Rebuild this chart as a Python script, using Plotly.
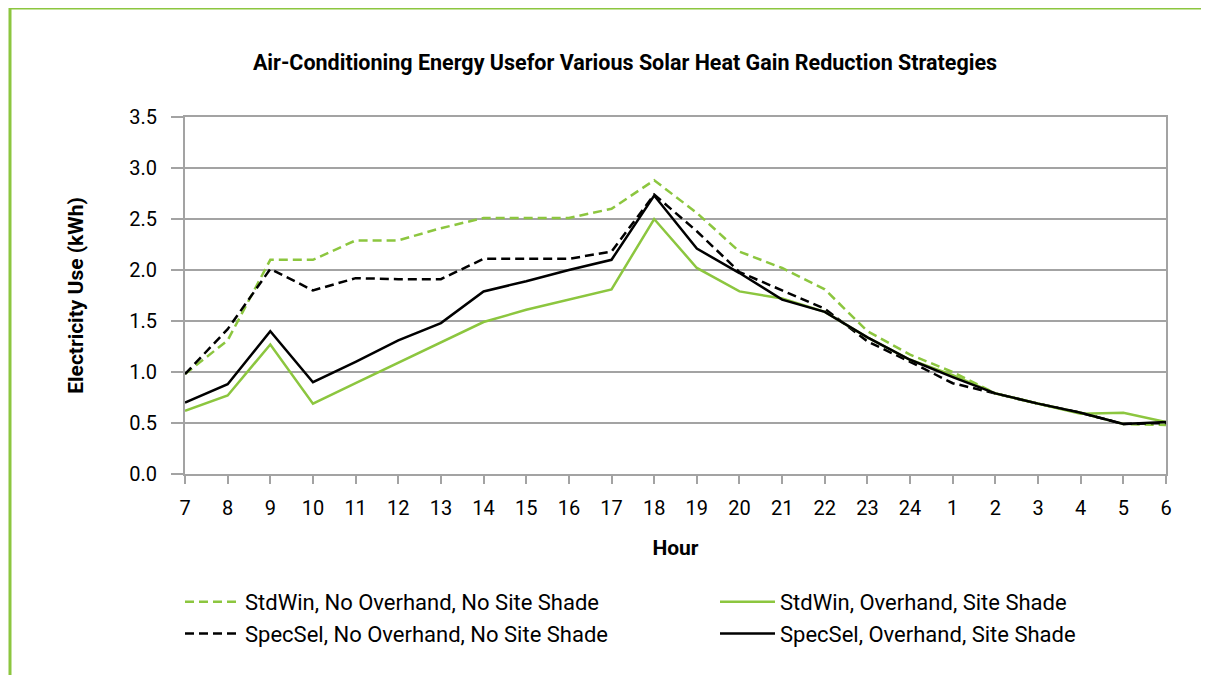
import plotly.graph_objects as go

hours = ["7", "8", "9", "10", "11", "12", "13", "14", "15", "16", "17", "18",
         "19", "20", "21", "22", "23", "24", "1", "2", "3", "4", "5", "6"]

stdwin_no_shade = [0.98, 1.31, 2.10, 2.10, 2.29, 2.29, 2.41, 2.51, 2.51, 2.51, 2.60, 2.88,
                   2.56, 2.18, 2.02, 1.81, 1.40, 1.17, 1.00, 0.79, 0.69, 0.60, 0.49, 0.48]
stdwin_shade = [0.62, 0.77, 1.27, 0.69, 0.89, 1.09, 1.29, 1.49, 1.61, 1.71, 1.81, 2.50,
                2.02, 1.79, 1.72, 1.59, 1.34, 1.12, 0.97, 0.79, 0.69, 0.59, 0.60, 0.51]
specsel_no_shade = [0.98, 1.42, 2.01, 1.80, 1.92, 1.91, 1.91, 2.11, 2.11, 2.11, 2.18, 2.74,
                    2.38, 1.98, 1.80, 1.62, 1.30, 1.10, 0.89, 0.79, 0.69, 0.60, 0.49, 0.50]
specsel_shade = [0.70, 0.88, 1.40, 0.90, 1.10, 1.31, 1.48, 1.79, 1.89, 2.00, 2.10, 2.73,
                 2.21, 1.97, 1.71, 1.59, 1.34, 1.12, 0.95, 0.79, 0.69, 0.60, 0.49, 0.51]

GREEN = "#8cc63f"
GRID = "#a3a3a3"
FONT = "Roboto, Liberation Sans, sans-serif"
DASH = "9px,5px"

fig = go.Figure()
fig.add_trace(go.Scatter(x=hours, y=stdwin_no_shade, mode="lines",
                         name="StdWin, No Overhand, No Site Shade", legend="legend",
                         line=dict(color=GREEN, width=2.5, dash=DASH)))
fig.add_trace(go.Scatter(x=hours, y=specsel_no_shade, mode="lines",
                         name="SpecSel, No Overhand, No Site Shade", legend="legend",
                         line=dict(color="black", width=2.5, dash=DASH)))
fig.add_trace(go.Scatter(x=hours, y=stdwin_shade, mode="lines",
                         name="StdWin, Overhand, Site Shade", legend="legend2",
                         line=dict(color=GREEN, width=2.5)))
fig.add_trace(go.Scatter(x=hours, y=specsel_shade, mode="lines",
                         name="SpecSel, Overhand, Site Shade", legend="legend2",
                         line=dict(color="black", width=2.5)))

OFF = 8  # page body margin
W, H = 1209 - OFF, 675 - OFF
# target pixel positions in the window
PL, PR, PT, PB = 185, 1166, 117, 474
L, T = PL - OFF, PT - OFF
R = W - (PR - OFF)
B = H - (PB - OFF)
pw = W - L - R
ph = H - T - B


def px_x(p):
    return (p - OFF - L) / pw


def px_y(p):
    return (H - B - (p - OFF)) / ph


legend_common = dict(orientation="v", xanchor="left", yanchor="top",
                     font=dict(size=22), tracegroupgap=0, itemwidth=55,
                     bgcolor="rgba(0,0,0,0)")

fig.update_layout(
    width=W, height=H,
    margin=dict(l=L, r=R, t=T, b=B),
    paper_bgcolor="white", plot_bgcolor="white",
    font=dict(family=FONT, size=20, color="black"),
    title=dict(text="<b>Air-Conditioning Energy Usefor Various Solar Heat Gain Reduction Strategies</b>",
               x=px_x(625), xanchor="center", xref="paper",
               y=1 - (62 - OFF) / H, yanchor="middle",
               font=dict(family=FONT, size=21.5, color="black")),
    xaxis=dict(type="category", range=[0, 23],
               title=dict(text="<b>Hour</b>", font=dict(size=21), standoff=21),
               showgrid=False, showline=True, linecolor=GRID, linewidth=2, mirror=True,
               ticks="outside", ticklen=8, tickcolor=GRID, tickwidth=2,
               ticklabelstandoff=7,
               tickfont=dict(size=20)),
    yaxis=dict(range=[0, 3.5], dtick=0.5, tickformat=".1f",
               title=dict(text="<b>Electricity Use (kWh)</b>", font=dict(size=21), standoff=40),
               showgrid=True, gridcolor=GRID, gridwidth=2,
               showline=True, linecolor=GRID, linewidth=2, mirror=True,
               ticks="outside", ticklen=12, tickcolor=GRID, tickwidth=2,
               ticklabelstandoff=10,
               tickfont=dict(size=20), zeroline=False),
    legend=dict(x=px_x(180), y=px_y(581), **legend_common),
    legend2=dict(x=px_x(715), y=px_y(581), **legend_common),
    showlegend=True,
)

# outer green frame (top and left edges)
fig.add_shape(type="line", xref="paper", yref="paper",
              x0=px_x(10), x1=px_x(1215), y0=px_y(8), y1=px_y(8),
              line=dict(color=GREEN, width=3))
fig.add_shape(type="line", xref="paper", yref="paper",
              x0=px_x(10), x1=px_x(10), y0=px_y(8), y1=px_y(680),
              line=dict(color=GREEN, width=3))

fig.write_html("out.html")
